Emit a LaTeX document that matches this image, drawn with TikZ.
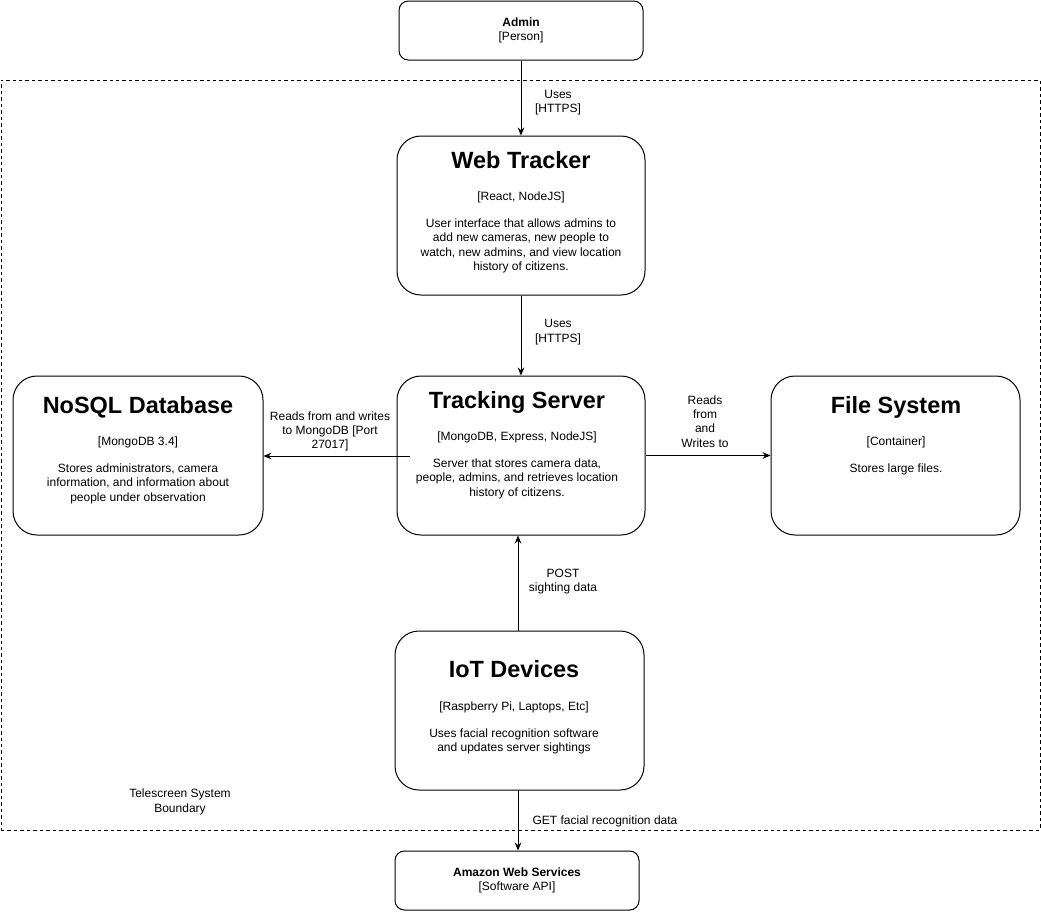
\documentclass[tikz,border=0pt]{standalone}
\usepackage{fontspec}
\setmainfont{Liberation Sans}
\usetikzlibrary{arrows.meta}
\begin{document}
\begin{tikzpicture}[x=0.75pt,y=-0.75pt,
  big/.style={draw, line width=0.75pt, rounded corners=18pt, minimum width=186pt, minimum height=119.25pt, inner sep=0pt},
  smallbox/.style={draw, line width=0.75pt, rounded corners=7pt, minimum width=183pt, minimum height=44.25pt, align=center, font=\fontsize{9}{10.75}\selectfont, inner sep=0pt},
  ttl/.style={anchor=base, font=\fontsize{17.6}{21}\selectfont\bfseries, inner sep=0pt},
  subt/.style={anchor=base, font=\fontsize{9}{10.75}\selectfont, inner sep=0pt},
  desc/.style={anchor=north, align=center, font=\fontsize{9}{10.75}\selectfont, inner sep=0pt},
  lbl/.style={align=center, font=\fontsize{9}{10.75}\selectfont, inner sep=0pt},
  arr/.style={-{Stealth[length=6pt,width=5pt]}, line width=0.75pt}
]
\useasboundingbox (0,0) rectangle (1041,911);
% boundary
\node[draw, dash pattern=on 2.6pt off 2.25pt, line width=0.75pt, minimum width=779.25pt, minimum height=562.5pt, inner sep=0pt] (boundary) at (520.5,455) {};
\node[lbl] (boundlbl) at (180,802) {Telescreen System\\Boundary};

% small boxes
\node[smallbox] (admin) at (521,30.5) {\textbf{Admin}\\{}[Person]};
\node[smallbox] (aws) at (517,880.5) {\textbf{Amazon Web Services}\\{}[Software API]};

% big boxes
\node[big] (web) at (521,215.5) {};
\node[ttl] (webt) at (521,168.4) {Web Tracker};
\node[subt] (webs) at (521,200.3) {[React, NodeJS]};
\node[desc] (webd) at (521,218.5) {User interface that allows admins to\\add new cameras, new people to\\watch, new admins, and view location\\history of citizens.};

\node[big] (track) at (521,455.5) {};
\node[ttl] (trackt) at (517,408.4) {Tracking Server};
\node[subt] (tracks) at (517,440.3) {[MongoDB, Express, NodeJS]};
\node[desc] (trackd) at (517,458.5) {Server that stores camera data,\\people, admins, and retrieves location\\history of citizens.};

\node[big, minimum width=187.5pt] (nosql) at (138,455.5) {};
\node[ttl] (nosqlt) at (138,413.4) {NoSQL Database};
\node[subt] (nosqls) at (138,445.3) {[MongoDB 3.4]};
\node[desc] (nosqld) at (138,463.5) {Stores administrators, camera\\information, and information about\\people under observation};

\node[big, minimum width=186.75pt] (file) at (895.5,455.5) {};
\node[ttl] (filet) at (896,413.4) {File System};
\node[subt] (files) at (896,445.3) {[Container]};
\node[desc] (filed) at (896,463.5) {Stores large files.};

\node[big, minimum width=186.75pt] (iot) at (519.5,710.5) {};
\node[ttl] (iott) at (514,677.4) {IoT Devices};
\node[subt] (iots) at (514,710.3) {[Raspberry Pi, Laptops, Etc]};
\node[desc] (iotd) at (514,728.5) {Uses facial recognition software\\and updates server sightings};

% connectors
\draw[arr] (admin) -- (web);
\node[lbl] (l1) at (558,102.5) {Uses\\{}[HTTPS]};
\draw[arr] (web) -- (track);
\node[lbl] (l2) at (558,332) {Uses\\{}[HTTPS]};
\coordinate (tsrc) at (410,456);
\draw[arr] (tsrc) -- (tsrc -| nosql.east);
\node[lbl] (l3) at (330,431.5) {Reads from and writes\\to MongoDB [Port\\27017]};
\draw[arr] (track.east) -- (file.west);
\node[lbl] (l4) at (705,421.5) {Reads\\from\\and\\Writes to};
\coordinate (isrc) at (518,631);
\draw[arr] (isrc) -- (isrc |- track.south);
\node[lbl] (l5) at (563,581.5) {POST\\sighting data};
\coordinate (isrc2) at (518,790);
\draw[arr] (isrc2) -- (isrc2 |- aws.north);
\node[lbl] (l6) at (605,821) {GET facial recognition data};
\end{tikzpicture}
\end{document}
